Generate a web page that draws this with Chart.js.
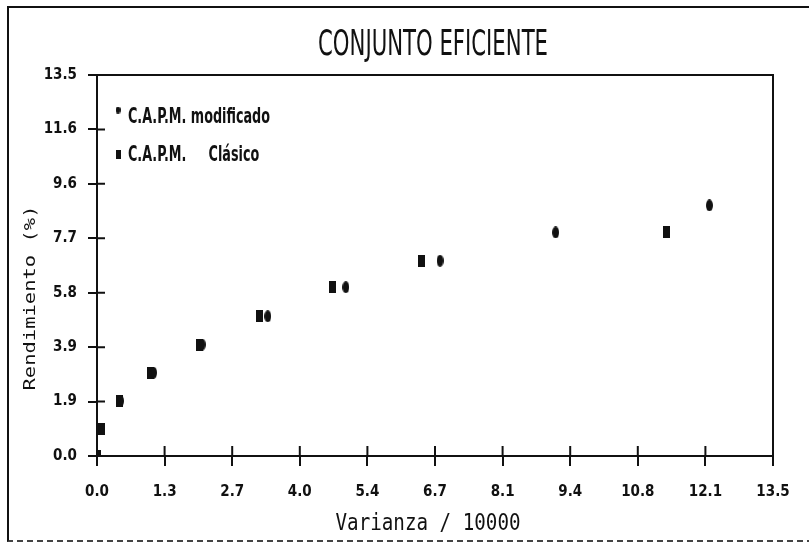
<!DOCTYPE html>
<html>
<head>
<meta charset="utf-8">
<script src="https://cdn.jsdelivr.net/npm/chart.js@4.4.1/dist/chart.umd.min.js"></script>
<style>
  body { margin: 0; background: #fff; }
  #marco { position: relative; width: 809px; height: 548px; }
  #borde {
    position: absolute; left: 7px; top: 6px; width: 804px; height: 532px;
    border-left: 2px solid #111; border-top: 2px solid #111;
    border-bottom: 2px dashed #444; pointer-events: none;
  }
</style>
</head>
<body>
<div id="marco">
  <canvas id="grafico" width="809" height="548"></canvas>
  <div id="borde"></div>
</div>
<script>
// Datos
const titulo = "CONJUNTO EFICIENTE";
const tituloX = "Varianza / 10000";
const tituloY = "Rendimiento (%)";
const etiquetasX = ["0.0", "1.3", "2.7", "4.0", "5.4", "6.7", "8.1", "9.4", "10.8", "12.1", "13.5"];
const etiquetasY = ["0.0", "1.9", "3.9", "5.8", "7.7", "9.6", "11.6", "13.5"];
const ejeMax = 13.5;

const nombreModificado = "C.A.P.M. modificado";
const modificadoX = [0.47, 1.13, 2.10, 3.41, 4.97, 6.85, 9.16, 12.23];
const modificadoY = [1.95, 2.95, 3.95, 4.95, 5.98, 6.92, 7.92, 8.88];

const nombreClasico = "C.A.P.M.     Clásico";
const clasicoX = [0.0, 0.09, 0.45, 1.07, 2.04, 3.25, 4.71, 6.49, 11.38];
const clasicoY = [0.0, 0.95, 1.95, 2.95, 3.95, 4.95, 5.98, 6.92, 7.92];

const fuenteEstrecha = "'Liberation Sans Narrow', 'DejaVu Sans Condensed', 'Arial Narrow', sans-serif";
const fuenteMono = "'DejaVu Sans Mono', 'Liberation Mono', monospace";

// marcadores (elipse y rectangulo alargados, como en el original)
function crearMarcador(tipo, ancho, alto) {
  const c = document.createElement("canvas");
  c.width = ancho;
  c.height = alto;
  const g = c.getContext("2d");
  g.fillStyle = "#111";
  if (tipo === "elipse") {
    g.beginPath();
    g.ellipse(ancho / 2, alto / 2, ancho / 2, alto / 2, 0, 0, Math.PI * 2);
    g.fill();
  } else {
    g.fillRect(0, 0, ancho, alto);
  }
  return c;
}

const puntoCirculo = crearMarcador("elipse", 7, 12);
const puntoCuadro = crearMarcador("rect", 7, 12);
const leyendaCirculo = crearMarcador("elipse", 5, 7);
const leyendaCuadro = crearMarcador("rect", 5, 9);

function aPuntos(xs, ys) {
  return xs.map((x, i) => ({ x: x, y: ys[i] }));
}

// texto comprimido a un ancho dado
function textoAjustado(ctx, texto, x, y, anchoObjetivo, escalaY) {
  const ancho = ctx.measureText(texto).width;
  ctx.save();
  ctx.translate(x, y);
  ctx.scale(anchoObjetivo / ancho, escalaY || 1);
  ctx.fillText(texto, 0, 0);
  ctx.restore();
}

// marco del area, marcas interiores, titulos y leyenda
const pluginDibujo = {
  id: "dibujo",
  afterDraw(chart) {
    const ctx = chart.ctx;
    const area = chart.chartArea;
    const sx = chart.scales.x;
    const sy = chart.scales.y;
    ctx.save();
    ctx.strokeStyle = "#111";
    ctx.lineWidth = 2;
    ctx.strokeRect(area.left, area.top, area.right - area.left, area.bottom - area.top);

    ctx.beginPath();
    sx.ticks.forEach(t => {
      const px = sx.getPixelForValue(t.value);
      ctx.moveTo(px, area.bottom);
      ctx.lineTo(px, area.bottom - 10);
    });
    sy.ticks.forEach(t => {
      const py = sy.getPixelForValue(t.value);
      ctx.moveTo(area.left, py);
      ctx.lineTo(area.left + 8, py);
    });
    ctx.stroke();

    ctx.fillStyle = "#111";
    ctx.textAlign = "center";
    ctx.textBaseline = "middle";

    // titulo
    ctx.font = "36px " + fuenteEstrecha;
    textoAjustado(ctx, titulo, (area.left + area.right) / 2 - 2, 46, 230);

    // titulo eje x
    ctx.font = "17px " + fuenteMono;
    textoAjustado(ctx, tituloX, 428, 524, 185, 1.3);

    // titulo eje y
    ctx.save();
    ctx.translate(31, 298);
    ctx.rotate(-Math.PI / 2);
    ctx.font = "16px " + fuenteMono;
    textoAjustado(ctx, tituloY, 0, 0, 185);
    ctx.restore();

    // leyenda
    ctx.textAlign = "left";
    ctx.font = "bold 18px " + fuenteEstrecha;
    const escalaLeyenda = 142 / ctx.measureText(nombreModificado).width;
    const marcas = [leyendaCirculo, leyendaCuadro];
    chart.data.datasets.forEach((ds, i) => {
      const y = area.top + 43 + i * 38;
      const m = marcas[i];
      ctx.drawImage(m, area.left + 21 - m.width / 2, y - 8 - m.height / 2 + (i === 0 ? 0 : 6));
      ctx.save();
      ctx.translate(area.left + 31, y);
      ctx.scale(escalaLeyenda, 1.15);
      ctx.fillText(ds.label, 0, 0);
      ctx.restore();
    });
    ctx.restore();
  }
};

new Chart(document.getElementById("grafico"), {
  type: "scatter",
  data: {
    datasets: [
      {
        label: nombreModificado,
        data: aPuntos(modificadoX, modificadoY),
        pointStyle: puntoCirculo,
        pointRadius: 6,
        backgroundColor: "#111",
        borderColor: "#111"
      },
      {
        label: nombreClasico,
        data: aPuntos(clasicoX, clasicoY),
        pointStyle: puntoCuadro,
        pointRadius: 6,
        backgroundColor: "#111",
        borderColor: "#111"
      }
    ]
  },
  options: {
    responsive: false,
    animation: false,
    devicePixelRatio: 1,
    layout: { padding: { left: 18, top: 75, right: 36, bottom: 12 } },
    plugins: {
      legend: { display: false },
      title: { display: false },
      tooltip: { enabled: false }
    },
    scales: {
      x: {
        type: "linear",
        min: 0,
        max: ejeMax,
        afterBuildTicks: (escala) => {
          escala.ticks = etiquetasX.map((e, i) => ({ value: i * ejeMax / (etiquetasX.length - 1) }));
        },
        afterFit: (escala) => { escala.height = 80; },
        ticks: {
          color: "#111",
          padding: 17,
          maxRotation: 0,
          autoSkip: false,
          font: { family: fuenteEstrecha, size: 15, weight: "bold" },
          callback: (v, i) => etiquetasX[i]
        },
        grid: { drawOnChartArea: false, color: "#111", lineWidth: 2, tickLength: 10 },
        border: { color: "#111", width: 2 }
      },
      y: {
        type: "linear",
        min: 0,
        max: ejeMax,
        afterBuildTicks: (escala) => {
          escala.ticks = etiquetasY.map((e, i) => ({ value: i * ejeMax / (etiquetasY.length - 1) }));
        },
        afterFit: (escala) => { escala.width = 79; },
        ticks: {
          color: "#111",
          padding: 11,
          autoSkip: false,
          font: { family: fuenteEstrecha, size: 15, weight: "bold" },
          callback: (v, i) => etiquetasY[i]
        },
        grid: { drawOnChartArea: false, color: "#111", lineWidth: 2, tickLength: 9 },
        border: { color: "#111", width: 2 }
      }
    }
  },
  plugins: [pluginDibujo]
});
</script>
</body>
</html>
